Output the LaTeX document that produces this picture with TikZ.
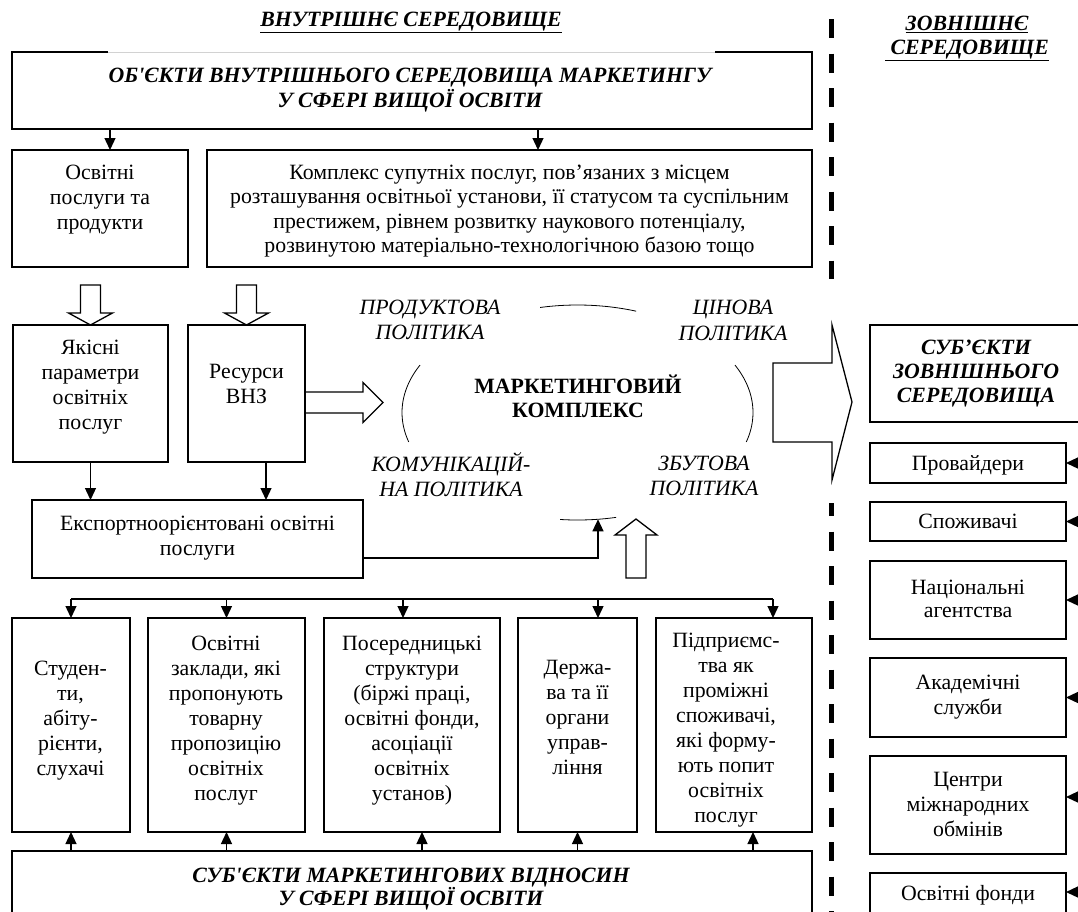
\documentclass[tikz,border=0pt]{standalone}
\usepackage{fontspec}
\setmainfont{Liberation Serif}
\usetikzlibrary{arrows.meta,calc}
\tikzset{
  bx/.style={draw, line width=1.3pt, inner sep=0pt, outer sep=0pt},
  bxn/.style={inner sep=0pt, outer sep=0pt},
  txt/.style={align=center, inner sep=0pt, anchor=north, font=\fontsize{21.8}{25}\selectfont},
  txtbi/.style={align=center, inner sep=0pt, anchor=north, font=\fontsize{21.8}{25}\selectfont\bfseries\itshape},
  txti/.style={align=center, inner sep=0pt, anchor=north, font=\fontsize{21.8}{25}\selectfont\itshape},
  txtb/.style={align=center, inner sep=0pt, anchor=north, font=\fontsize{21.8}{24}\selectfont\bfseries},
  ln/.style={line width=1.3pt},
  arr/.style={line width=1.3pt, -{Triangle[length=12pt,width=11pt]}},
  hol/.style={draw, line width=1.3pt, fill=white, line join=miter},
  ring/.style={line width=0.8pt},
  dashln/.style={line width=5pt, dash pattern=on 19pt off 15.5pt}
}
\begin{document}
\begin{tikzpicture}[x=1pt,y=-1pt]
\useasboundingbox (0,0) rectangle (1078,911);
\clip (0,0) rectangle (1078,911);

% dashed border between environments
\coordinate (dA) at (831.5,19);
\coordinate (dB) at (831.5,279);
\coordinate (dC) at (831.5,503);
\coordinate (dD) at (831.5,925);
\draw[dashln] (dA) -- (dB);
\draw[dashln, dash phase=5.8pt] (dC) -- (dD);

% headers
\node[txtbi, anchor=base] (hin) at (411,26) {\underline{ВНУТРІШНЄ СЕРЕДОВИЩЕ}};
\node[txtbi, font=\fontsize{21.8}{23.5}\selectfont\bfseries\itshape] (hout) at (967,16) {\underline{ЗОВНІШНЄ}\\\underline{ СЕРЕДОВИЩЕ}};

% top box
\node[bxn, minimum width=800pt, minimum height=77pt] (top) at (412,90.5) {};
\draw[ln] ([xshift=-97pt]top.north east) -- (top.north east) -- (top.south east) -- (top.south west) -- (top.north west) -- ([xshift=96pt]top.north west);
\draw[gray!35, line width=0.7pt] ([xshift=96pt]top.north west) -- ([xshift=-97pt]top.north east);
\node[txtbi] (topT) at (410,67.5) {ОБ\textquotesingle ЄКТИ ВНУТРІШНЬОГО СЕРЕДОВИЩА МАРКЕТИНГУ\\У СФЕРІ ВИЩОЇ ОСВІТИ};

% second row
\node[bx, minimum width=176pt, minimum height=117pt] (osv) at (100,208.5) {};
\node[txt] (osvT) at (100,164.5) {Освітні\\послуги та\\продукти};
\node[bx, minimum width=605pt, minimum height=117pt] (kom) at (509.5,208.5) {};
\node[txt, font=\fontsize{21.8}{24.5}\selectfont] (komT) at (509.5,164.5) {Комплекс супутніх послуг, пов’язаних з місцем\\розташування освітньої установи, її статусом та суспільним\\престижем, рівнем розвитку наукового потенціалу,\\розвинутою матеріально-технологічною базою тощо};

\coordinate (a1) at ($(osv.north)+(10,0)$);
\coordinate (a2) at ($(kom.north)+(28.5,0)$);
\draw[arr] (a1 |- top.south) -- (a1);
\draw[arr] (a2 |- top.south) -- (a2);

% third row
\node[bx, minimum width=155pt, minimum height=137pt] (yak) at (90.5,393.5) {};
\node[txt] (yakT) at (90.5,339.5) {Якісні\\параметри\\освітніх\\послуг};
\node[bx, minimum width=117pt, minimum height=137pt] (res) at (246.5,393.5) {};
\node[txt] (resT) at (246.5,364.5) {Ресурси\\ВНЗ};

\draw[hol, shift={(yak.north)}] (0,0) -- (-22,-12) -- (-10,-12) -- (-10,-40) -- (10,-40) -- (10,-12) -- (22,-12) -- cycle;
\draw[hol, shift={(res.north)}] (0,0) -- (-22,-12) -- (-10,-12) -- (-10,-40) -- (10,-40) -- (10,-12) -- (22,-12) -- cycle;
\draw[hol, fill=none, shift={($(res.east)+(0,9)$)}] (0,-10.5) -- (58,-10.5) -- (58,-20) -- (78,0) -- (58,20) -- (58,10.5) -- (0,10.5);

% export box
\node[bx, minimum width=331pt, minimum height=78pt] (exp) at (197.5,539) {};
\node[txt] (expT) at (197.5,515.5) {Експортноорієнтовані освітні\\послуги};
\coordinate (a3) at ($(res.south)+(19.5,0)$);
\draw[arr] (yak.south) -- (yak.south |- exp.north);
\draw[arr] (a3) -- (a3 |- exp.north);

% marketing complex ring
\coordinate (mk) at (577.5,412.5);
\draw[ring] plot[domain=70.5:102.3, samples=30] ({577.5+175.5*cos(\x)},{412.5-107.5*sin(\x)});
\draw[ring] plot[domain=153.8:195.9, samples=30] ({577.5+175.5*cos(\x)},{412.5-107.5*sin(\x)});
\draw[ring] plot[domain=-15.9:26.2, samples=30] ({577.5+175.5*cos(\x)},{412.5-107.5*sin(\x)});
\draw[ring] plot[domain=264.3:282.7, samples=30] ({577.5+175.5*cos(\x)},{412.5-107.5*sin(\x)});
\node[txti] (prodT) at (430,299.5) {ПРОДУКТОВА\\ПОЛІТИКА};
\node[txti, font=\fontsize{21.8}{26}\selectfont\itshape] (cinT) at (733,299.5) {ЦІНОВА\\ПОЛІТИКА};
\node[txtb] (mkT) at (578,375) {МАРКЕТИНГОВИЙ\\КОМПЛЕКС};
\node[txti] (komunT) at (451,452) {КОМУНІКАЦІЙ-\\НА ПОЛІТИКА};
\node[txti] (zbutT) at (704,455.5) {ЗБУТОВА\\ПОЛІТИКА};

\coordinate (mkb) at (598,519.3);
\draw[arr] ($(exp.east)+(0,19)$) -| (mkb);
\coordinate (upT) at (636,519);
\draw[hol, shift={(upT)}] (0,0) -- (21,16) -- (10,16) -- (10,59) -- (-10,59) -- (-10,16) -- (-21,16) -- cycle;

% big arrow to external environment
\draw[hol] (773,363) -- (832,363) -- (832,325) -- (852,402) -- (832,480) -- (832,442) -- (773,442) -- cycle;

% external column
\node[bx, minimum width=215pt, minimum height=97pt] (ext) at (977.5,373.5) {};
\node[txtbi, font=\fontsize{21.8}{24}\selectfont\bfseries\itshape] (extT) at (976,339.5) {СУБ’ЄКТИ\\ЗОВНІШНЬОГО\\СЕРЕДОВИЩА};
\node[bx, minimum width=196pt, minimum height=40pt] (prov) at (968,463) {};
\node[txt] (provT) at (968,455.5) {Провайдери};
\node[bx, minimum width=196pt, minimum height=39pt] (spoz) at (968,521.5) {};
\node[txt] (spozT) at (968,513.5) {Споживачі};
\node[bx, minimum width=196pt, minimum height=78pt] (nat) at (968,600) {};
\node[txt, font=\fontsize{21.8}{23}\selectfont] (natT) at (968,579.5) {Національні\\агентства};
\node[bx, minimum width=196pt, minimum height=79pt] (akad) at (968,697.5) {};
\node[txt] (akadT) at (968,674.5) {Академічні\\служби};
\node[bx, minimum width=196pt, minimum height=98pt] (centr) at (968,805) {};
\node[txt] (centrT) at (968,772.5) {Центри\\міжнародних\\обмінів};
\node[bx, minimum width=196pt, minimum height=42pt] (fond) at (968,894) {};
\node[txt] (fondT) at (968,885.5) {Освітні фонди};

\draw[arr] ([xshift=16pt]prov.east) -- (prov.east);
\draw[arr] ([xshift=16pt]spoz.east) -- (spoz.east);
\draw[arr] ([xshift=16pt]nat.east) -- (nat.east);
\draw[arr] ([xshift=16pt]akad.east) -- (akad.east);
\draw[arr] ($(centr.east)+(16,-8)$) -- ($(centr.east)+(0,-8)$);
\draw[arr] ($(fond.east)+(16,-2)$) -- ($(fond.east)+(0,-2)$);

% bottom row of subjects
\node[bx, minimum width=118pt, minimum height=214pt] (b1) at (71,725) {};
\node[txt] (b1T) at (70.5,660.5) {Студен-\\ти,\\абіту-\\рієнти,\\слухачі};
\node[bx, minimum width=157pt, minimum height=214pt] (b2) at (226.5,725) {};
\node[txt] (b2T) at (226,635.5) {Освітні\\заклади, які\\пропонують\\товарну\\пропозицію\\освітніх\\послуг};
\node[bx, minimum width=176pt, minimum height=214pt] (b3) at (412,725) {};
\node[txt] (b3T) at (412,635.5) {Посередницькі\\структури\\(біржі праці,\\освітні фонди,\\асоціації\\освітніх\\установ)};
\node[bx, minimum width=119pt, minimum height=214pt] (b4) at (577.5,725) {};
\node[txt] (b4T) at (577.5,660.5) {Держа-\\ва та її\\органи\\управ-\\ління};
\node[bx, minimum width=156pt, minimum height=214pt] (b5) at (734,725) {};
\node[txt] (b5T) at (726,632.5) {Підприємс-\\тва як\\проміжні\\споживачі,\\які форму-\\ють попит\\освітніх\\послуг};

\coordinate (busL) at (71,599);
\coordinate (busR) at (773,599);
\draw[ln] (busL) -- (busR);
\coordinate (t3) at ($(b3.north)+(-9,0)$);
\coordinate (t4) at ($(b4.north)+(20.5,0)$);
\coordinate (t5) at ($(b5.north)+(39,0)$);
\draw[arr] (b1.north |- busL) -- (b1.north);
\draw[arr] (b2.north |- busL) -- (b2.north);
\draw[arr] (t3 |- busL) -- (t3);
\draw[arr] (t4 |- busL) -- (t4);
\draw[arr] (busR) -- (t5);

% bottom box
\node[bx, minimum width=800pt, minimum height=79pt] (sub) at (412,890.5) {};
\node[txtbi, font=\fontsize{21.8}{21.5}\selectfont\bfseries\itshape] (subT) at (411,867.5) {СУБ\textquotesingle ЄКТИ МАРКЕТИНГОВИХ ВІДНОСИН\\У СФЕРІ ВИЩОЇ ОСВІТИ};

\coordinate (u3) at ($(b3.south)+(10,0)$);
\coordinate (u5) at ($(b5.south)+(19,0)$);
\draw[arr] (b1.south |- sub.north) -- (b1.south);
\draw[arr] (b2.south |- sub.north) -- (b2.south);
\draw[arr] (u3 |- sub.north) -- (u3);
\draw[arr] (b4.south |- sub.north) -- (b4.south);
\draw[arr] (u5 |- sub.north) -- (u5);
\end{tikzpicture}
\end{document}
